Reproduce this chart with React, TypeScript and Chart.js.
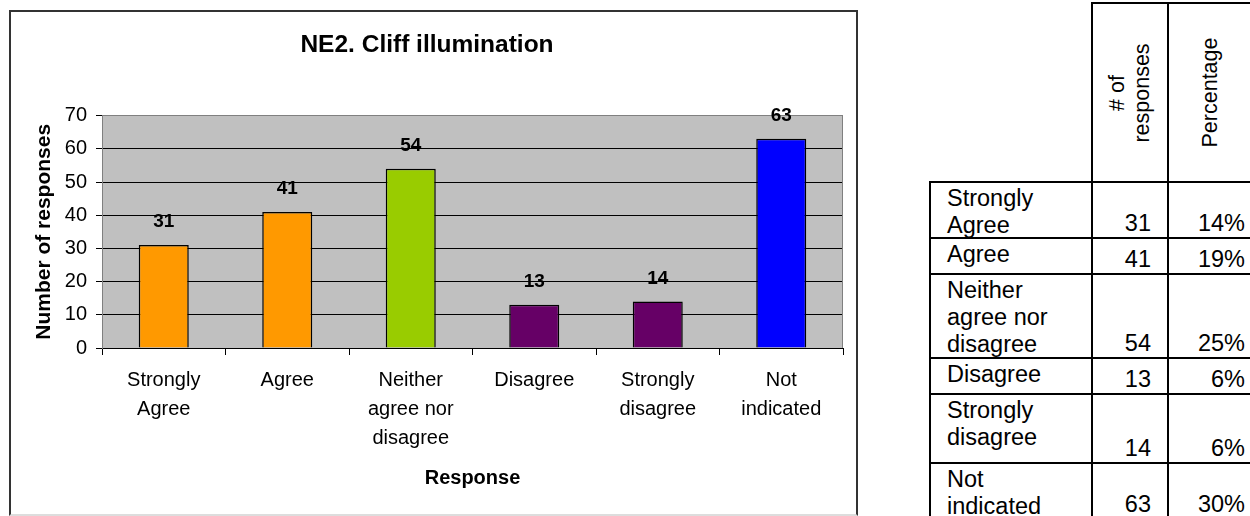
import React, { useEffect, useRef } from "react";
import { Chart, registerables } from "chart.js";

Chart.register(...registerables);

// ---- data ----
const categories: string[][] = [
  ["Strongly", "Agree"],
  ["Agree"],
  ["Neither", "agree nor", "disagree"],
  ["Disagree"],
  ["Strongly", "disagree"],
  ["Not", "indicated"],
];
const responses: number[] = [31, 41, 54, 13, 14, 63];
const percentages: string[] = ["14%", "19%", "25%", "6%", "6%", "30%"];
const barColors: string[] = ["#FF9900", "#FF9900", "#99CC00", "#660066", "#660066", "#0000FF"];
const chartTitle = "NE2. Cliff illumination";
const xTitle = "Response";
const yTitle = "Number of responses";
const yMin = 0;
const yMax = 70;
const yStep = 10;
const tableHeaders: string[][] = [["# of", "responses"], ["Percentage"]];

const FONT = '"Liberation Sans", Arial, Helvetica, sans-serif';

// ---- table layout (page px) ----
const colX = [930, 1092, 1168, 1254];
const rowY = [182, 238, 274, 358, 394, 463, 519];
const headerTop = 3;

const plotFrame = {
  id: "plotFrame",
  beforeDraw(chart: any) {
    const { ctx, chartArea } = chart;
    const { left, top, right, bottom } = chartArea;
    ctx.save();
    ctx.fillStyle = "#C0C0C0";
    ctx.fillRect(left, top, right - left, bottom - top);
    ctx.restore();
  },
  beforeDatasetsDraw(chart: any) {
    const { ctx, chartArea } = chart;
    const { top, right, bottom } = chartArea;
    ctx.save();
    ctx.strokeStyle = "#808080";
    ctx.lineWidth = 1;
    ctx.beginPath();
    ctx.moveTo(Math.round(right) - 0.5, top);
    ctx.lineTo(Math.round(right) - 0.5, bottom);
    ctx.stroke();
    ctx.restore();
  },
};

const valueLabels = {
  id: "valueLabels",
  afterDatasetsDraw(chart: any) {
    const { ctx } = chart;
    const meta = chart.getDatasetMeta(0);
    const data = chart.data.datasets[0].data;
    ctx.save();
    ctx.font = `bold 19px ${FONT}`;
    ctx.fillStyle = "#000";
    ctx.textAlign = "center";
    ctx.textBaseline = "middle";
    meta.data.forEach((el: any, i: number) => {
      ctx.fillText(String(data[i]), el.x, el.y - 23);
    });
    ctx.restore();
  },
};

function BarChart() {
  const ref = useRef<HTMLCanvasElement | null>(null);
  useEffect(() => {
    if (!ref.current) return;
    const chart = new Chart(ref.current, {
      type: "bar",
      data: {
        labels: categories,
        datasets: [
          {
            data: responses,
            backgroundColor: barColors,
            borderColor: "#000",
            borderWidth: 1.5,
            barPercentage: 0.405,
            categoryPercentage: 1,
          },
        ],
      },
      options: {
        responsive: false,
        animation: false,
        devicePixelRatio: 1,
        layout: { padding: { left: 0, right: 13, top: 0, bottom: 0 } },
        plugins: {
          legend: { display: false },
          tooltip: { enabled: false },
          title: {
            display: true,
            text: chartTitle,
            color: "#000",
            font: { family: FONT, size: 24.5, weight: "bold", lineHeight: 1.25 },
            padding: { top: 18, bottom: 55 },
          },
        },
        scales: {
          x: {
            grid: {
              display: true,
              drawOnChartArea: false,
              drawTicks: true,
              tickLength: 7,
              tickColor: "#000",
              offset: true,
            },
            border: { display: true, color: "#000", width: 1 },
            ticks: {
              color: "#000",
              font: { family: FONT, size: 20, lineHeight: 1.45 },
              padding: 11,
              maxRotation: 0,
              autoSkip: false,
            },
            title: {
              display: true,
              text: xTitle,
              color: "#000",
              font: { family: FONT, size: 20, weight: "bold", lineHeight: 1.2 },
              padding: { top: 0, bottom: 24 },
            },
            afterFit: (s: any) => {
              s.height = 166;
            },
          },
          y: {
            min: yMin,
            max: yMax,
            ticks: {
              stepSize: yStep,
              color: "#000",
              font: { family: FONT, size: 20 },
              padding: 9,
            },
            grid: {
              color: (c: any) => (c.tick && c.tick.value === yMax ? "#808080" : "#000"),
              tickColor: "#000",
              tickLength: 6,
              lineWidth: 1,
            },
            border: { display: true, color: "#808080", width: 1 },
            title: {
              display: true,
              text: yTitle,
              color: "#000",
              font: { family: FONT, size: 21, weight: "bold", lineHeight: 1.2 },
              padding: { top: 21, bottom: 0 },
            },
            afterFit: (s: any) => {
              s.width = 91;
            },
          },
        },
      },
      plugins: [plotFrame, valueLabels],
    } as any);
    return () => chart.destroy();
  }, []);
  return (
    <div
      style={{
        position: "absolute",
        left: 9,
        top: 10,
        width: 849,
        height: 506,
        boxSizing: "border-box",
        borderLeft: "2px solid #333",
        borderTop: "2px solid #333",
        borderRight: "2px solid #333",
        borderBottom: "2px solid #ddd",
        background: "#fff",
      }}
    >
      <canvas ref={ref} width={845} height={502} style={{ display: "block", width: 845, height: 502 }} />
    </div>
  );
}

function cellBox(x0: number, x1: number, y0: number, y1: number): React.CSSProperties {
  return {
    position: "absolute",
    left: x0 - 1,
    top: y0 - 1,
    width: x1 - x0 + 2,
    height: y1 - y0 + 2,
    boxSizing: "border-box",
    border: "2px solid #000",
  };
}

function DataTable() {
  const textStyle: React.CSSProperties = {
    fontFamily: FONT,
    fontSize: 23.5,
    lineHeight: "27px",
    color: "#000",
  };
  const cells: React.ReactNode[] = [];
  tableHeaders.forEach((lines, j) => {
    cells.push(
      <div
        key={`h${j}`}
        style={{
          ...cellBox(colX[j + 1], colX[j + 2], headerTop, rowY[0]),
          display: "flex",
          alignItems: "center",
          justifyContent: "center",
        }}
      >
        <div
          style={{
            ...textStyle,
            fontSize: 21.5,
            lineHeight: "25px",
            transform: "rotate(-90deg)",
            whiteSpace: "nowrap",
            textAlign: "center",
          }}
        >
          {lines.map((l, k) => (
            <div key={k}>{l}</div>
          ))}
        </div>
      </div>
    );
  });
  categories.forEach((lines, i) => {
    const y0 = rowY[i];
    const y1 = rowY[i + 1];
    cells.push(
      <div key={`l${i}`} style={{ ...cellBox(colX[0], colX[1], y0, y1), ...textStyle, paddingLeft: 16, paddingTop: 2 }}>
        {lines.map((l, k) => (
          <div key={k} style={{ whiteSpace: "nowrap" }}>{l}</div>
        ))}
      </div>
    );
    cells.push(
      <div
        key={`n${i}`}
        style={{
          ...cellBox(colX[1], colX[2], y0, y1),
          ...textStyle,
          display: "flex",
          alignItems: "flex-end",
          justifyContent: "flex-end",
          paddingRight: 16,
        }}
      >
        <span>{responses[i]}</span>
      </div>
    );
    cells.push(
      <div
        key={`p${i}`}
        style={{
          ...cellBox(colX[2], colX[3], y0, y1),
          ...textStyle,
          display: "flex",
          alignItems: "flex-end",
          justifyContent: "flex-end",
          paddingRight: 8,
        }}
      >
        <span>{percentages[i]}</span>
      </div>
    );
  });
  return <>{cells}</>;
}

export default function App() {
  return (
    <div
      style={{
        position: "fixed",
        left: 0,
        top: 0,
        width: 1250,
        height: 516,
        overflow: "hidden",
        background: "#fff",
      }}
    >
      <BarChart />
      <DataTable />
    </div>
  );
}
